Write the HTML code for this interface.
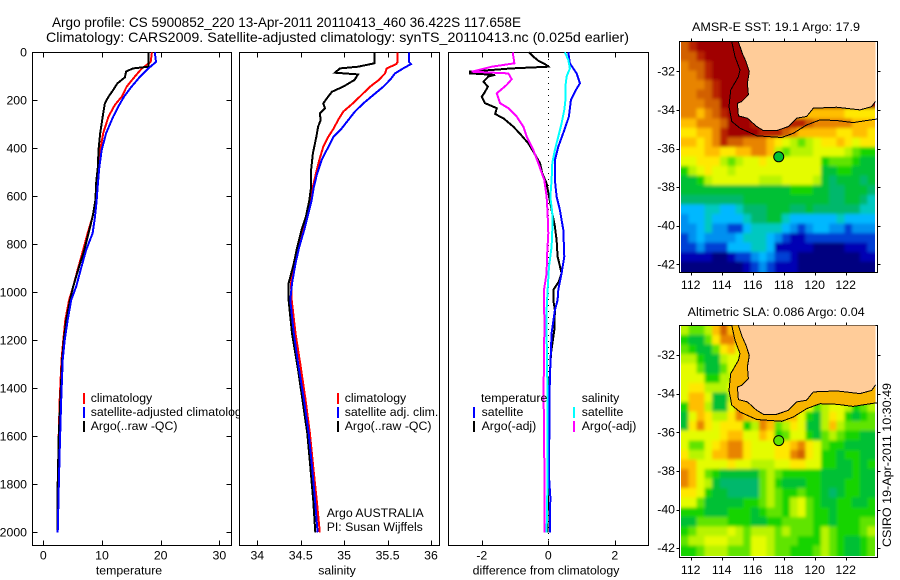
<!DOCTYPE html>
<html lang="en">
<head>
<meta charset="utf-8">
<title>Argo profile 5900852_220</title>
<style>
html,body{margin:0;padding:0;background:#fff;}
svg{display:block;}
text{font-family:"Liberation Sans",sans-serif;font-size:12.3px;fill:#000;}
.ttl{font-size:14px;}
.crisp{shape-rendering:crispEdges;}
</style>
</head>
<body>
<svg id="chart" xmlns="http://www.w3.org/2000/svg" width="900" height="580" viewBox="0 0 900 580">
<defs>
<filter id="heat-smooth" filterUnits="userSpaceOnUse" x="660" y="20" width="240" height="560"><feGaussianBlur stdDeviation="1.6"/></filter>
<clipPath id="map1-clip"><rect x="681" y="42" width="194" height="230"/></clipPath>
<clipPath id="map2-clip"><rect x="681" y="326" width="194" height="230"/></clipPath>
</defs>
<rect x="0" y="0" width="900" height="580" fill="#fff"/>
<text class="ttl" x="52" y="27" textLength="469" lengthAdjust="spacingAndGlyphs">Argo profile: CS 5900852_220 13-Apr-2011 20110413_460 36.422S 117.658E</text>
<text class="ttl" x="46" y="42" textLength="583" lengthAdjust="spacingAndGlyphs">Climatology: CARS2009. Satellite-adjusted climatology: synTS_20110413.nc (0.025d earlier)</text>
</svg>
<script>
/* ---------- profile data ---------- */
const depthTicks=[0,200,400,600,800,1000,1200,1400,1600,1800,2000];
const tempTicks=[0,10,20,30];
const salTicks=[34,34.5,35,35.5,36];
const diffTicks=[-2,0,2];
const lonTicks=[112,114,116,118,120,122];
const latTicks=[32,34,36,38,40,42];

const tempDepths=[0,40,67,101,143,185,219,268,337,407,476,546,615,685,754,823,893,976,1032,1115,1199,1282,1449,1615,1754,2000];
const tempClim=[18.5,18.3,16.8,15.6,14.2,13.35,12.2,11.1,10.2,9.7,9.5,9.3,8.9,8.4,7.55,6.8,6.0,5.1,4.4,3.75,3.4,3.1,2.8,2.6,2.55,2.45];
const tempSat=[19.0,19.2,17.9,16.5,15.05,13.75,12.95,11.9,10.7,9.95,9.55,9.3,9.1,8.8,8.4,7.3,6.5,5.6,4.75,4.15,3.65,3.3,3.05,2.85,2.7,2.45];
const tempArgoDepths=[0,50,60,67,80,104,130,157,185,212,254,337,407,476,546,615,685,754,823,893,976,1032,1115,1199,1282,1449,1615,1754,1837,2000];
const tempArgo=[17.9,17.9,17.9,15.3,14.1,13.9,12.6,11.9,11.1,10.5,10.2,9.7,9.4,9.3,9.0,8.9,8.4,7.7,7.0,6.1,5.1,4.55,3.9,3.5,3.2,2.9,2.6,2.5,2.4,2.4];

const salUpperDepths=[0,40,49,67,88,115,143,178,213,247,282,317,351,393,449,504,560,615,670,740,810,880,963,1032,1171,1310,1449,1588,1726,1865,2000];
const salClim=[35.616,35.616,35.6,35.49,35.47,35.4,35.3,35.2,35.1,34.99,34.93,34.88,34.82,34.76,34.714,34.676,34.64,34.606,34.58,34.52,34.472,34.42,34.388,34.396,34.44,34.5,34.556,34.606,34.644,34.684,34.72];
const salSat=[35.746,35.746,35.77,35.68,35.586,35.528,35.452,35.336,35.22,35.124,35.048,34.972,34.88,34.82,34.74,34.69,34.652,34.626,34.588,34.54,34.484,34.44,34.4,34.38,34.42,34.476,34.538,34.592,34.63,34.664,34.694];
const salArgoDepths=[0,46,60,67,85,92,115,143,164,192,213,233,254,282,310,351,421,490,560,615,685,740,810,880,963,1032,1171,1310,1449,1588,1726,1865,2000];
const salArgo=[35.348,35.348,35.16,34.952,34.894,35.16,35.12,34.99,34.86,34.8,34.76,34.78,34.72,34.73,34.7,34.68,34.64,34.62,34.62,34.6,34.56,34.51,34.46,34.42,34.36,34.36,34.4,34.464,34.52,34.576,34.61,34.644,34.668];

const diffTempSatDepths=[0,46,88,129,157,199,268,324,393,449,532,601,657,740,851,921,990,1032,1074,1171,1310,1449,1588,1768,1852,2000];
const diffTempSat=[0.6,0.65,0.85,0.95,0.83,0.68,0.62,0.48,0.3,0.2,0.2,0.25,0.35,0.45,0.48,0.4,0.3,0.28,0.2,0.1,0.06,0.03,0.03,0.02,0.06,0.05];
const diffTempArgoDepths=[0,18,35,49,60,67,81,88,94,101,122,143,164,185,212,233,257,275,310,344,379,421,462,504,546,601,657,726,782,851,921,955,990,1032,1074,1157,1254,1407,1601,2000];
const diffTempArgo=[-0.58,-0.45,-0.3,-0.1,0,-1.1,-2.36,-2.36,-1.6,-1.8,-1.95,-1.82,-1.9,-2.0,-1.9,-1.55,-1.6,-1.35,-1.05,-0.82,-0.6,-0.42,-0.25,-0.18,-0.05,0.02,0.1,0.2,0.25,0.28,0.4,0.32,0.15,0.15,0.2,0.18,0.08,0.02,0,-0.02];
const diffSalSatDepths=[0,32,67,101,136,192,240,296,351,407,462,532,601,671,740,810,893,990,1074,1171,1449,1768,2000];
const diffSalSat=[0.5,0.6,0.65,0.55,0.52,0.52,0.48,0.4,0.3,0.2,0.12,0.1,0.06,0.12,0.12,0.1,0.02,-0.02,-0.05,-0.05,-0.02,-0.02,-0.05];
const diffSalArgoDepths=[0,46,60,81,88,112,136,171,212,233,268,310,351,407,462,532,601,671,754,851,921,990,1074,1115,1240,1421,1830,2000];
const diffSalArgo=[-1.07,-1.02,-1.7,-2.3,-1.2,-1.1,-1.25,-1.55,-1.45,-1.2,-0.95,-0.75,-0.65,-0.45,-0.3,-0.12,-0.05,-0.02,0,-0.04,-0.05,-0.13,-0.13,-0.11,-0.13,-0.14,-0.11,-0.11];

/* ---------- map data: colour-level grids, 0 (coldest/lowest) to 17 ---------- */
const sstGrid=[
[15,16,17,17,17,17,17,17],
[15,15,16,17,17,17,17,17,17],
[14,15,15,16,17,17,17,17,17],
[14,14,15,16,17,17,17,17,17,17],
[14,14,14,15,16,17,17,17,17],
[14,14,15,15,16,17,17,17,17],
[14,14,14,15,15,17,17,17,17],
[14,14,13,14,15,16,17,17,17,null,null,null,null,null,null,null,null,13,13,13,13,12,12,12,12],
[13,13,14,14,14,15,17,17,17,16,null,null,null,null,null,16,15,14,14,14,14,14,13,13,13],
[12,12,13,13,14,16,17,17,17,17,16,16,16,15,14,13,13,13,13,13,12,12,13,13,12],
[13,13,12,13,14,16,15,15,14,14,14,13,12,11,10,9,10,11,12,12,13,12,11,12,12],
[12,12,12,13,13,12,12,13,13,14,14,13,10,9,10,10,10,11,11,11,11,10,9,8,8],
[11,11,12,12,12,10,9,10,11,11,12,11,11,11,11,11,11,11,8,9,9,9,8,7,7],
[8,10,11,12,11,11,10,11,11,11,11,11,11,11,11,11,11,11,7,7,8,8,7,7,7],
[7,7,8,10,11,11,11,11,11,11,10,10,10,11,11,11,11,10,7,6,7,7,7,6,7],
[7,7,7,7,7,7,7,7,7,7,7,7,7,7,8,8,8,7,7,6,6,7,7,7,6],
[6,6,6,6,6,6,6,6,7,7,7,7,7,7,7,7,7,7,7,6,6,7,7,6,5],
[4,4,4,5,5,4,4,5,6,6,6,7,7,7,6,6,7,6,6,6,6,6,6,5,5],
[3,4,4,5,4,4,4,4,5,6,6,7,7,5,4,4,4,4,4,4,5,4,4,4,4],
[3,3,4,5,3,3,2,2,4,5,5,5,5,4,3,2,3,4,4,3,3,2,3,3,3],
[2,3,4,3,3,3,3,4,5,5,5,4,3,2,1,1,2,2,2,2,2,2,2,2,2],
[2,2,3,2,2,2,4,4,4,5,5,4,1,1,1,1,1,0,0,0,0,1,1,1,2],
[1,1,1,1,0,0,1,2,2,3,4,3,2,2,1,0,0,0,0,0,0,0,0,1,1],
[0,0,0,0,0,0,0,0,1,2,3,2,1,1,1,0,0,0,0,0,0,0,0,0,0]
];
const slaGrid=[
[10,9,9,10,13,15,13,14],
[8,7,7,9,12,14,14,12,14],
[9,8,7,7,9,12,13,11,14,14],
[10,10,8,7,7,10,11,11,12,14],
[11,11,9,7,7,9,11,11,13,14],
[11,11,11,8,8,10,10,13,14,14],
[11,12,12,10,10,10,11,14],
[11,13,13,11,7,7,10,14,null,null,null,null,null,null,null,null,null,14,14,14,13,13,12,13,13],
[8,13,13,10,7,7,11,14,14,14,null,null,null,null,null,13,11,9,10,11,11,10,8,9,10],
[7,11,13,12,10,10,12,14,13,13,14,14,13,13,13,11,8,7,10,12,11,8,7,8,9],
[7,12,14,12,11,12,12,12,8,10,14,13,9,10,12,11,7,7,10,13,10,9,9,9,9],
[11,11,11,11,11,12,13,13,11,11,13,12,8,9,11,11,8,7,9,10,9,8,8,7,7],
[11,9,9,11,12,13,14,14,12,11,11,11,12,12,13,14,12,11,9,8,8,7,7,7,7],
[12,10,10,11,13,13,14,14,12,11,11,11,12,12,14,15,12,11,8,8,7,8,8,7,7],
[13,13,11,11,11,11,12,11,11,10,10,10,11,11,12,12,11,11,8,8,7,7,8,7,8],
[14,13,11,9,8,7,7,7,7,7,9,10,9,8,8,8,8,8,7,7,7,7,8,7,7],
[14,13,11,10,7,6,6,6,6,6,9,10,8,7,7,7,8,8,7,7,7,8,8,7,7],
[12,12,11,8,7,7,6,6,6,6,9,10,9,8,8,9,8,8,7,6,7,8,8,7,7],
[11,11,9,7,7,7,7,7,8,8,9,10,9,8,10,11,9,8,7,7,8,8,7,7,8],
[8,8,8,7,7,7,8,8,8,7,8,9,9,8,10,11,9,8,8,7,8,8,8,8,8],
[7,7,9,9,9,9,8,8,8,7,7,8,8,9,9,9,9,8,8,7,8,8,8,9,9],
[8,9,10,10,10,10,11,10,9,10,10,10,9,10,9,9,9,8,10,9,8,8,8,9,10],
[9,10,10,11,11,11,10,10,9,11,11,10,9,9,9,8,8,8,10,9,8,7,7,8,9],
[8,8,9,10,10,10,9,9,9,11,11,10,9,9,8,8,8,9,10,9,8,7,7,8,9]
];
const coastLon=[115.08,115.33,115.57,115.78,115.66,115.72,115.29,115.01,115.08,115.66,116.26,116.69,117.55,118.3,118.84,119.48,119.91,121.42,122.92,123.68,123.92,123.92];
const coastLat=[30.47,31.07,31.5,32.02,32.62,33.22,33.57,33.66,34.31,34.43,34.86,35.07,35.07,34.86,34.43,34.34,33.91,33.86,34.0,33.83,33.55,30.47];
const contourLon=[114.65,114.86,115.18,115.08,114.58,114.47,114.65,115.18,116.26,117.87,118.62,119.48,120.34,121.42,122.49,123.35,124.04];
const contourLat=[30.47,31.24,31.93,32.28,32.97,33.83,34.6,34.95,35.34,35.43,35.21,34.78,34.52,34.55,34.66,34.55,34.47];
const argoLon=117.68;
const argoLat=36.43;
const sstArgoLevel=7;
const slaArgoLevel=9;
const palette=['#000080','#0000b4','#0040d4','#0090f0','#00b8ff','#00c8c0','#00b86c','#00c034','#18d400','#60e400','#b8f400','#e4fc00','#ffe800','#ffbe00','#e88400','#d26000','#b82000','#a00000'];

/* ---------- axis functions ---------- */
const yDepth=d=>52.3+d*0.24;
const xTemp=v=>43.3+v*5.87;
const xSal=v=>257.3+(v-34)*86.85;
const xDiff=v=>548.3+v*33.25;
const mapX=lon=>690.7+(lon-112)*15.5;
const map1Y=lat=>71.3+(lat-32)*19.3;
const map2Y=lat=>355+(lat-32)*19.32;

const NS='http://www.w3.org/2000/svg';
const root=document.getElementById('chart');
function el(parent,tag,attrs,text){
  const n=document.createElementNS(NS,tag);
  for(const k in attrs){n.setAttribute(k,attrs[k]);}
  if(text!==undefined){n.textContent=text;}
  parent.appendChild(n);
  return n;
}
function group(name){
  const g=el(root,'g',{});
  
  
  return g;
}
function drawFrame(g,x0,y0,x1,y1,bg){
  const r=el(g,'rect',{x:x0,y:y0,width:x1-x0,height:y1-y0,fill:bg,stroke:'#000','stroke-width':1,class:'crisp'});
  
  
}
function drawXTicks(g,ticks,xf,labelName){
  ticks.forEach(t=>{
    const x=Math.round(xf(t))+0.5;
    const a=el(g,'line',{x1:x,x2:x,y1:52.5,y2:57.5,stroke:'#000',class:'crisp'});
    
    
    const b=el(g,'line',{x1:x,x2:x,y1:540.5,y2:545.5,stroke:'#000',class:'crisp'});
    
    
    const l=el(g,'text',{x:xf(t),y:559.5,'text-anchor':'middle'},String(t));
    
    
  });
}
function drawLine(g,depths,values,xf,color,name,w){
  const pts=depths.map((d,i)=>xf(values[i]).toFixed(1)+','+yDepth(d).toFixed(1)).join(' ');
  const p=el(g,'polyline',{points:pts,fill:'none',stroke:color,'stroke-width':w||2,'stroke-linejoin':'miter',class:'crisp'});
  
  
}
function legendBar(g,x,y,color,name){
  const r=el(g,'rect',{x:x,y:y,width:2,height:11,fill:color,class:'crisp'});
  
  
}
function label(g,x,y,str,name,len){
  const attrs={x:x,y:y};
  if(len){attrs.textLength=len;attrs.lengthAdjust='spacingAndGlyphs';}
  const t=el(g,'text',attrs,str);
  
  
  return t;
}
function centered(g,x,y,str,name){
  const t=el(g,'text',{x:x,y:y,'text-anchor':'middle'},str);
  
  
}

/* ---------- temperature panel ---------- */
const p1=group('temperature-panel');
drawFrame(p1,32.5,52.5,231.5,545.5,'#fff');
drawXTicks(p1,tempTicks,xTemp,'temperature-tick-label');
depthTicks.forEach(d=>{
  const y=Math.round(yDepth(d))+0.5;
  const a=el(p1,'line',{x1:32.5,x2:37.5,y1:y,y2:y,stroke:'#000',class:'crisp'});
  
  
  const b=el(p1,'line',{x1:226.5,x2:231.5,y1:y,y2:y,stroke:'#000',class:'crisp'});
  
  
  const t=el(p1,'text',{x:27,y:yDepth(d)+4,'text-anchor':'end'},String(d));
  
  
});
drawLine(p1,tempDepths,tempClim,xTemp,'#ff0000','temperature-climatology-line');
drawLine(p1,tempArgoDepths,tempArgo,xTemp,'#000000','temperature-argo-line');
drawLine(p1,tempDepths,tempSat,xTemp,'#0000ff','temperature-satellite-line');
centered(p1,129,574.5,'temperature','temperature-axis-title');
legendBar(p1,83,393,'#ff0000','legend-swatch-climatology');
label(p1,90.7,402,'climatology','legend-label-climatology');
legendBar(p1,83,407,'#0000ff','legend-swatch-satellite-adjusted');
label(p1,90.7,416,'satellite-adjusted climatology','legend-label-satellite-adjusted');
legendBar(p1,83,421,'#000000','legend-swatch-argo');
label(p1,90.7,430,'Argo(..raw -QC)','legend-label-argo');

/* ---------- salinity panel ---------- */
const p2=group('salinity-panel');
drawFrame(p2,239.5,52.5,439.5,545.5,'#fff');
drawXTicks(p2,salTicks,xSal,'salinity-tick-label');
drawLine(p2,salUpperDepths,salClim,xSal,'#ff0000','salinity-climatology-line');
drawLine(p2,salArgoDepths,salArgo,xSal,'#000000','salinity-argo-line');
drawLine(p2,salUpperDepths,salSat,xSal,'#0000ff','salinity-satellite-line');
centered(p2,337,574.5,'salinity','salinity-axis-title');
legendBar(p2,337,393,'#ff0000','legend-swatch-climatology');
label(p2,344.7,402,'climatology','legend-label-climatology');
legendBar(p2,337,407,'#0000ff','legend-swatch-satellite-adjusted');
label(p2,344.7,416,'satellite adj. clim.','legend-label-satellite-adjusted');
legendBar(p2,337,421,'#000000','legend-swatch-argo');
label(p2,344.7,430,'Argo(..raw -QC)','legend-label-argo');
label(p2,326.7,517,'Argo AUSTRALIA','argo-program-label');
label(p2,326.7,531,'PI: Susan Wijffels','principal-investigator-label');

/* ---------- difference panel ---------- */
const p3=group('difference-panel');
drawFrame(p3,448.5,52.5,648.5,545.5,'#fff');
drawXTicks(p3,diffTicks,xDiff,'difference-tick-label');
const zeroLine=el(p3,'line',{x1:xDiff(0),x2:xDiff(0),y1:53,y2:545,stroke:'#000','stroke-width':1,'stroke-dasharray':'1 5',class:'crisp'});


drawLine(p3,diffTempArgoDepths,diffTempArgo,xDiff,'#000000','temperature-argo-difference-line');
drawLine(p3,diffTempSatDepths,diffTempSat,xDiff,'#0000ff','temperature-satellite-difference-line');
drawLine(p3,diffSalSatDepths,diffSalSat,xDiff,'#00ffff','salinity-satellite-difference-line');
drawLine(p3,diffSalArgoDepths,diffSalArgo,xDiff,'#ff00ff','salinity-argo-difference-line');
centered(p3,546,574.5,'difference from climatology','difference-axis-title');
label(p3,481,402,'temperature','legend-heading-temperature');
legendBar(p3,473,407,'#0000ff','legend-swatch-temperature-satellite');
label(p3,481.6,416,'satellite','legend-label-temperature-satellite');
legendBar(p3,473,421,'#000000','legend-swatch-temperature-argo');
label(p3,481.6,430,'Argo(-adj)','legend-label-temperature-argo');
label(p3,581.7,402,'salinity','legend-heading-salinity');
legendBar(p3,573,407,'#00ffff','legend-swatch-salinity-satellite');
label(p3,581.7,416,'satellite','legend-label-salinity-satellite');
legendBar(p3,573,421,'#ff00ff','legend-swatch-salinity-argo');
label(p3,581.7,430,'Argo(-adj)','legend-label-salinity-argo');

/* ---------- maps ---------- */
const cellLon0=111.37, cellDLon=0.502, cellLat0=30.47, cellDLat=0.4954, gridCols=25;
function nearestValue(row,c){
  for(let d=0;d<gridCols;d++){
    if(row[c-d]!==undefined&&row[c-d]!==null){return row[c-d];}
    if(row[c+d]!==undefined&&row[c+d]!==null){return row[c+d];}
  }
  return 0;
}
function drawMap(name,grid,yf,top,bottom,clipId,argoLevel,withBand){
  const g=group(name);
  drawFrame(g,679.5,top,877.5,bottom,'#fff');
  const clip=el(g,'g',{'clip-path':'url(#'+clipId+')'});
  
  
  const heat=el(clip,'g',{filter:'url(#heat-smooth)'});
  
  
  const w=cellDLon*15.5, h=cellDLat*19.3;
  grid.forEach((row,r)=>{
    for(let c=0;c<gridCols;c++){
      const v=nearestValue(row,c);
      let x=mapX(cellLon0+c*cellDLon), y=yf(cellLat0+r*cellDLat), cw=w+0.4, ch=h+0.4;
      if(c===0){x-=8;cw+=8;}
      if(c===gridCols-1){cw+=8;}
      if(r===0){y-=8;ch+=8;}
      if(r===grid.length-1){ch+=8;}
      const cell=el(heat,'rect',{x:x.toFixed(2),y:y.toFixed(2),width:cw.toFixed(2),height:ch.toFixed(2),fill:palette[v],class:'crisp'});
      
      
    }
  });
  if(withBand){
    const fwd=contourLon.map((l,i)=>mapX(Math.min(l,123.92)).toFixed(1)+','+yf(contourLat[i]).toFixed(1));
    const back=coastLon.slice(0,-1).reverse().map((l,i)=>mapX(l).toFixed(1)+','+yf(coastLat[coastLat.length-2-i]).toFixed(1));
    const band=el(g,'polygon',{points:fwd.concat(back).join(' '),fill:'#f8b400',class:'crisp'});
    
    
  }
  const land=el(g,'polygon',{points:coastLon.map((l,i)=>mapX(l).toFixed(1)+','+yf(coastLat[i]).toFixed(1)).join(' '),fill:'#ffcc99',class:'crisp'});
  
  
  const coast=el(g,'polyline',{points:coastLon.slice(0,-1).map((l,i)=>mapX(l).toFixed(1)+','+yf(coastLat[i]).toFixed(1)).join(' '),fill:'none',stroke:'#000','stroke-width':1,class:'crisp'});
  
  
  const iso=el(g,'polyline',{points:contourLon.map((l,i)=>mapX(l).toFixed(1)+','+yf(contourLat[i]).toFixed(1)).join(' '),fill:'none',stroke:'#000','stroke-width':1,class:'crisp'});
  
  
  const dot=el(g,'circle',{cx:mapX(argoLon),cy:yf(argoLat),r:5,fill:palette[Math.round(argoLevel)],stroke:'#000','stroke-width':1});
  
  
  lonTicks.forEach(t=>{
    const x=Math.round(mapX(t))+0.5;
    const a=el(g,'line',{x1:x,x2:x,y1:top-3,y2:top,stroke:'#000',class:'crisp'});
    
    
    const b=el(g,'line',{x1:x,x2:x,y1:bottom,y2:bottom+3,stroke:'#000',class:'crisp'});
    
    
    const l=el(g,'text',{x:mapX(t),y:bottom+16.5,'text-anchor':'middle'},String(t));
    
    
  });
  latTicks.forEach(t=>{
    const y=Math.round(yf(t))+0.5;
    const a=el(g,'line',{x1:676.5,x2:679.5,y1:y,y2:y,stroke:'#000',class:'crisp'});
    
    
    const b=el(g,'line',{x1:877.5,x2:880.5,y1:y,y2:y,stroke:'#000',class:'crisp'});
    
    
    const l=el(g,'text',{x:675,y:yf(t)+4,'text-anchor':'end'},'-'+t);
    
    
  });
  return g;
}
const m1=drawMap('sst-map',sstGrid,map1Y,41.5,272.5,'map1-clip',sstArgoLevel,false);
label(m1,692,31,'AMSR-E SST: 19.1 Argo: 17.9','sst-map-title',168);
const m2=drawMap('sla-map',slaGrid,map2Y,325.5,557.5,'map2-clip',slaArgoLevel,true);
label(m2,687.7,316,'Altimetric SLA: 0.086 Argo: 0.04','sla-map-title',177);

const stamp=el(root,'text',{transform:'translate(891,547) rotate(-90)',textLength:164,lengthAdjust:'spacingAndGlyphs'},'CSIRO 19-Apr-2011 10:30:49');


</script>
</body>
</html>
